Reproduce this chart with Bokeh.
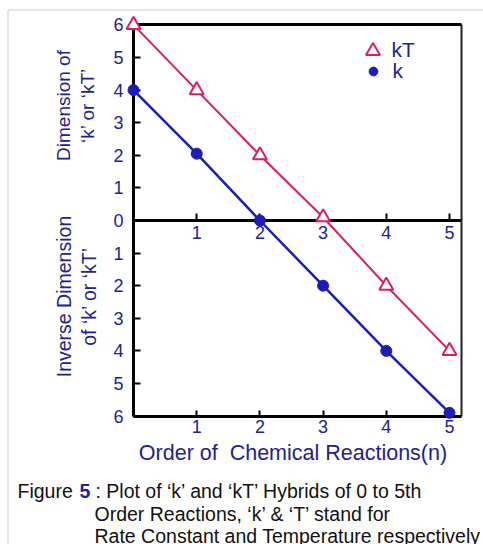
import math
from bokeh.plotting import figure
from bokeh.models import (LinearAxis, FixedTicker, Range1d, Label, Legend,
                          LegendItem, BoxAnnotation)
from bokeh.embed import file_html
from bokeh.resources import INLINE

# ---- data ----
order = [0, 1, 2, 3, 4, 5]
kT_values = [6, 4, 2, 0.1, -2, -4]
k_values = [4, 2.05, 0, -2, -4, -5.9]
y_ticks = [-6, -5, -4, -3, -2, -1, 0, 1, 2, 3, 4, 5, 6]
y_tick_labels = {t: str(abs(t)) for t in y_ticks}
x_ticks = [1, 2, 3, 4, 5]
x_max = 5.19

NAVY = "#22228c"
CRIMSON = "#d8205c"
BLUE = "#1c1cb8"
FONT = "Liberation Sans"

W, H = 483, 544
X0, Y0, SX, SY = 133.0, 220.0, 63.2, 32.6   # pixel position of data origin and px per unit
BASE_FIX = 7.5                              # baseline correction for alphabetic labels


def dx(px):
    return (px - X0) / SX


def dy(py):
    return (Y0 - py) / SY


def dyb(py):
    return dy(py - BASE_FIX)


p = figure(width=W, height=H, x_range=Range1d(dx(0), dx(W)), y_range=Range1d(dy(H), dy(0)),
           output_backend="svg", toolbar_location=None,
           min_border_left=0, min_border_right=0, min_border_top=0, min_border_bottom=0,
           x_axis_type=None, y_axis_type=None)
p.outline_line_color = None
p.background_fill_color = "white"
p.border_fill_color = "white"

common = dict(major_label_text_font=FONT, major_label_text_color=NAVY,
              major_label_text_font_size="18px", minor_tick_in=0, minor_tick_out=0,
              major_tick_out=0, major_tick_line_color="black", axis_line_color="black")

left = LinearAxis(ticker=FixedTicker(ticks=y_ticks), fixed_location=0, bounds=(-6, 6),
                  major_label_overrides=y_tick_labels, axis_line_width=3,
                  major_tick_in=7, major_tick_line_width=2, major_label_standoff=10, **common)
p.add_layout(left, "left")

bottom = LinearAxis(ticker=FixedTicker(ticks=x_ticks), fixed_location=-6, bounds=(0, x_max),
                    axis_line_width=3, major_tick_in=6, major_tick_line_width=2,
                    major_label_standoff=4, **common)
p.add_layout(bottom, "below")

middle = LinearAxis(ticker=FixedTicker(ticks=x_ticks), fixed_location=0, bounds=(0, x_max),
                    axis_line_width=3, major_tick_in=7, major_tick_line_width=2,
                    major_label_standoff=5, **common)
p.add_layout(middle, "below")

top = LinearAxis(ticker=FixedTicker(ticks=[]), fixed_location=6, bounds=(0, x_max),
                 axis_line_width=3, **common)
p.add_layout(top, "above")

right = LinearAxis(ticker=FixedTicker(ticks=[]), fixed_location=x_max, bounds=(-6, 6),
                   axis_line_width=2, **common)
right.axis_line_color = "#222222"
p.add_layout(right, "right")

# ---- series ----
p.line(order, kT_values, line_color=CRIMSON, line_width=2)
p.line(order, k_values, line_color=BLUE, line_width=2.5)
r_kT = p.scatter(order, kT_values, marker="triangle", size=14, fill_color="white",
                 line_color=CRIMSON, line_width=2, level="overlay")
r_k = p.scatter(order, k_values, marker="circle", size=11, fill_color=BLUE,
                line_color=BLUE, level="overlay")

# ---- legends ----
leg_common = dict(padding=0, margin=0, spacing=0, border_line_color=None,
                  background_fill_alpha=0, label_text_font_size="21px",
                  label_text_color=NAVY, label_text_font=FONT)
leg1 = Legend(items=[LegendItem(label="kT", renderers=[r_kT])], location=(354.5, H - 67.5),
              glyph_width=35, glyph_height=35, label_standoff=2, **leg_common)
leg2 = Legend(items=[LegendItem(label="k", renderers=[r_k])], location=(361.5, H - 82.5),
              glyph_width=22, glyph_height=22, label_standoff=9, **leg_common)
p.add_layout(leg1, "center")
p.add_layout(leg2, "center")

# ---- axis titles ----
p.add_layout(Label(x=dx(75), y=dy(105), text="Dimension of\n‘k’ or ‘kT’", angle=math.pi / 2,
                   text_align="center", text_baseline="middle", text_font=FONT,
                   text_font_size="19px", text_color=NAVY, text_line_height=1.1))
p.add_layout(Label(x=dx(76), y=dy(296), text="Inverse Dimension\nof ‘k’ or ‘kT’", angle=math.pi / 2,
                   text_align="center", text_baseline="middle", text_font=FONT,
                   text_font_size="19.5px", text_color=NAVY, text_line_height=1.1))
p.add_layout(Label(x=dx(292.5), y=dyb(460), text="Order of\u00a0 Chemical Reactions(n)",
                   text_align="center", text_baseline="alphabetic", text_font=FONT,
                   text_font_size="21.5px", text_color=NAVY))

# ---- caption ----
cap = dict(text_baseline="alphabetic", text_font=FONT, text_font_size="19.5px", text_color="#111111")
p.add_layout(Label(x=dx(17), y=dyb(498), text="Figure", **cap))
p.add_layout(Label(x=dx(79), y=dyb(498), text="5", text_baseline="alphabetic", text_font=FONT,
                   text_font_size="19.5px", text_font_style="bold", text_color=NAVY))
p.add_layout(Label(x=dx(95), y=dyb(498), text=": Plot of ‘k’ and ‘kT’ Hybrids of 0 to 5th", **cap))
p.add_layout(Label(x=dx(94), y=dyb(521), text="Order Reactions, ‘k’ & ‘T’ stand for", **cap))
p.add_layout(Label(x=dx(94), y=dyb(543), text="Rate Constant and Temperature respectively", **cap))

# ---- outer border ----
p.add_layout(BoxAnnotation(left=dx(7.5), right=dx(W + 20), top=dy(9.5), bottom=dy(H + 20),
                           fill_alpha=0, line_color="#555555", line_width=1, level="overlay"))

open("out.html", "w").write(file_html(p, INLINE))
